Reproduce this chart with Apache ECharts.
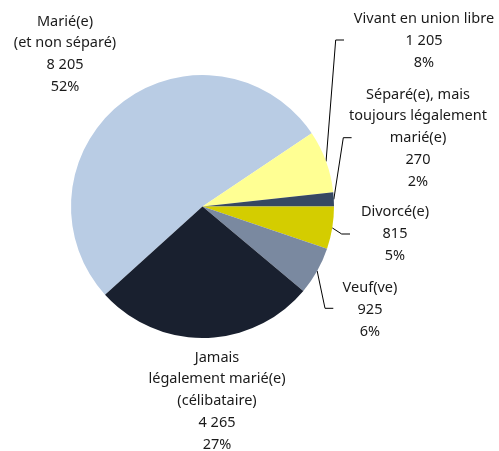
<!DOCTYPE html>
<html>
<head>
<meta charset="utf-8">
<script src="https://cdn.jsdelivr.net/npm/echarts@6/dist/echarts.min.js"></script>
<style>
  html, body { margin: 0; padding: 0; background: #fff; }
  #chart { width: 499px; height: 451px; }
</style>
</head>
<body>
<div id="chart"></div>
<script>
// catégories (dans l'ordre horaire) et effectifs
const categories = [
  'Marié(e)\n(et non séparé)',
  'Vivant en union libre',
  'Séparé(e), mais\ntoujours légalement\nmarié(e)',
  'Divorcé(e)',
  'Veuf(ve)',
  'Jamais\nlégalement marié(e)\n(célibataire)'
]
const counts = [8205, 1205, 270, 815, 925, 4265]
const colors = ['#B9CCE4', '#FFFF93', '#374862', '#D4CD00', '#7A89A0', '#19202F']

// position des étiquettes (centre du bloc) et coude des traits de rappel
const labelPos = [[65, 54], [424, 41], [418, 138], [395, 234], [370, 310], [217, 401]]
const leaderBend = [null, [335.7, 40], [343.3, 137.7], [341.7, 234], [325, 308.3], null]

const fmt = n => String(n).replace(/\B(?=(\d{3})+(?!\d))/g, ' ')

const chart = echarts.init(document.getElementById('chart'))

chart.setOption({
  animation: false,
  textStyle: { fontFamily: 'Noto Sans' },
  series: [{
    type: 'pie',
    center: [202.5, 206.5],
    radius: 131.5,
    startAngle: 222.17,
    clockwise: true,
    avoidLabelOverlap: false,
    itemStyle: { borderWidth: 0 },
    label: {
      show: true,
      position: 'outside',
      align: 'center',
      fontSize: 14.5,
      lineHeight: 21.7,
      color: '#1a1a1a',
      formatter: p => p.name + '\n' + fmt(p.value) + '\n' + Math.round(p.percent) + '%'
    },
    labelLine: {
      show: true,
      lineStyle: { color: '#000', width: 1 }
    },
    labelLayout: params => {
      const i = params.dataIndex
      const out = {
        x: labelPos[i][0],
        y: labelPos[i][1],
        align: 'center',
        verticalAlign: 'middle'
      }
      const b = leaderBend[i]
      if (b && params.labelLinePoints) {
        const start = params.labelLinePoints[0]
        out.labelLinePoints = [start, b, [b[0] + 8.3, b[1]]]
      }
      return out
    },
    data: categories.map((name, i) => ({
      name: name,
      value: counts[i],
      itemStyle: { color: colors[i] },
      labelLine: { show: leaderBend[i] != null }
    }))
  }]
})
</script>
</body>
</html>
